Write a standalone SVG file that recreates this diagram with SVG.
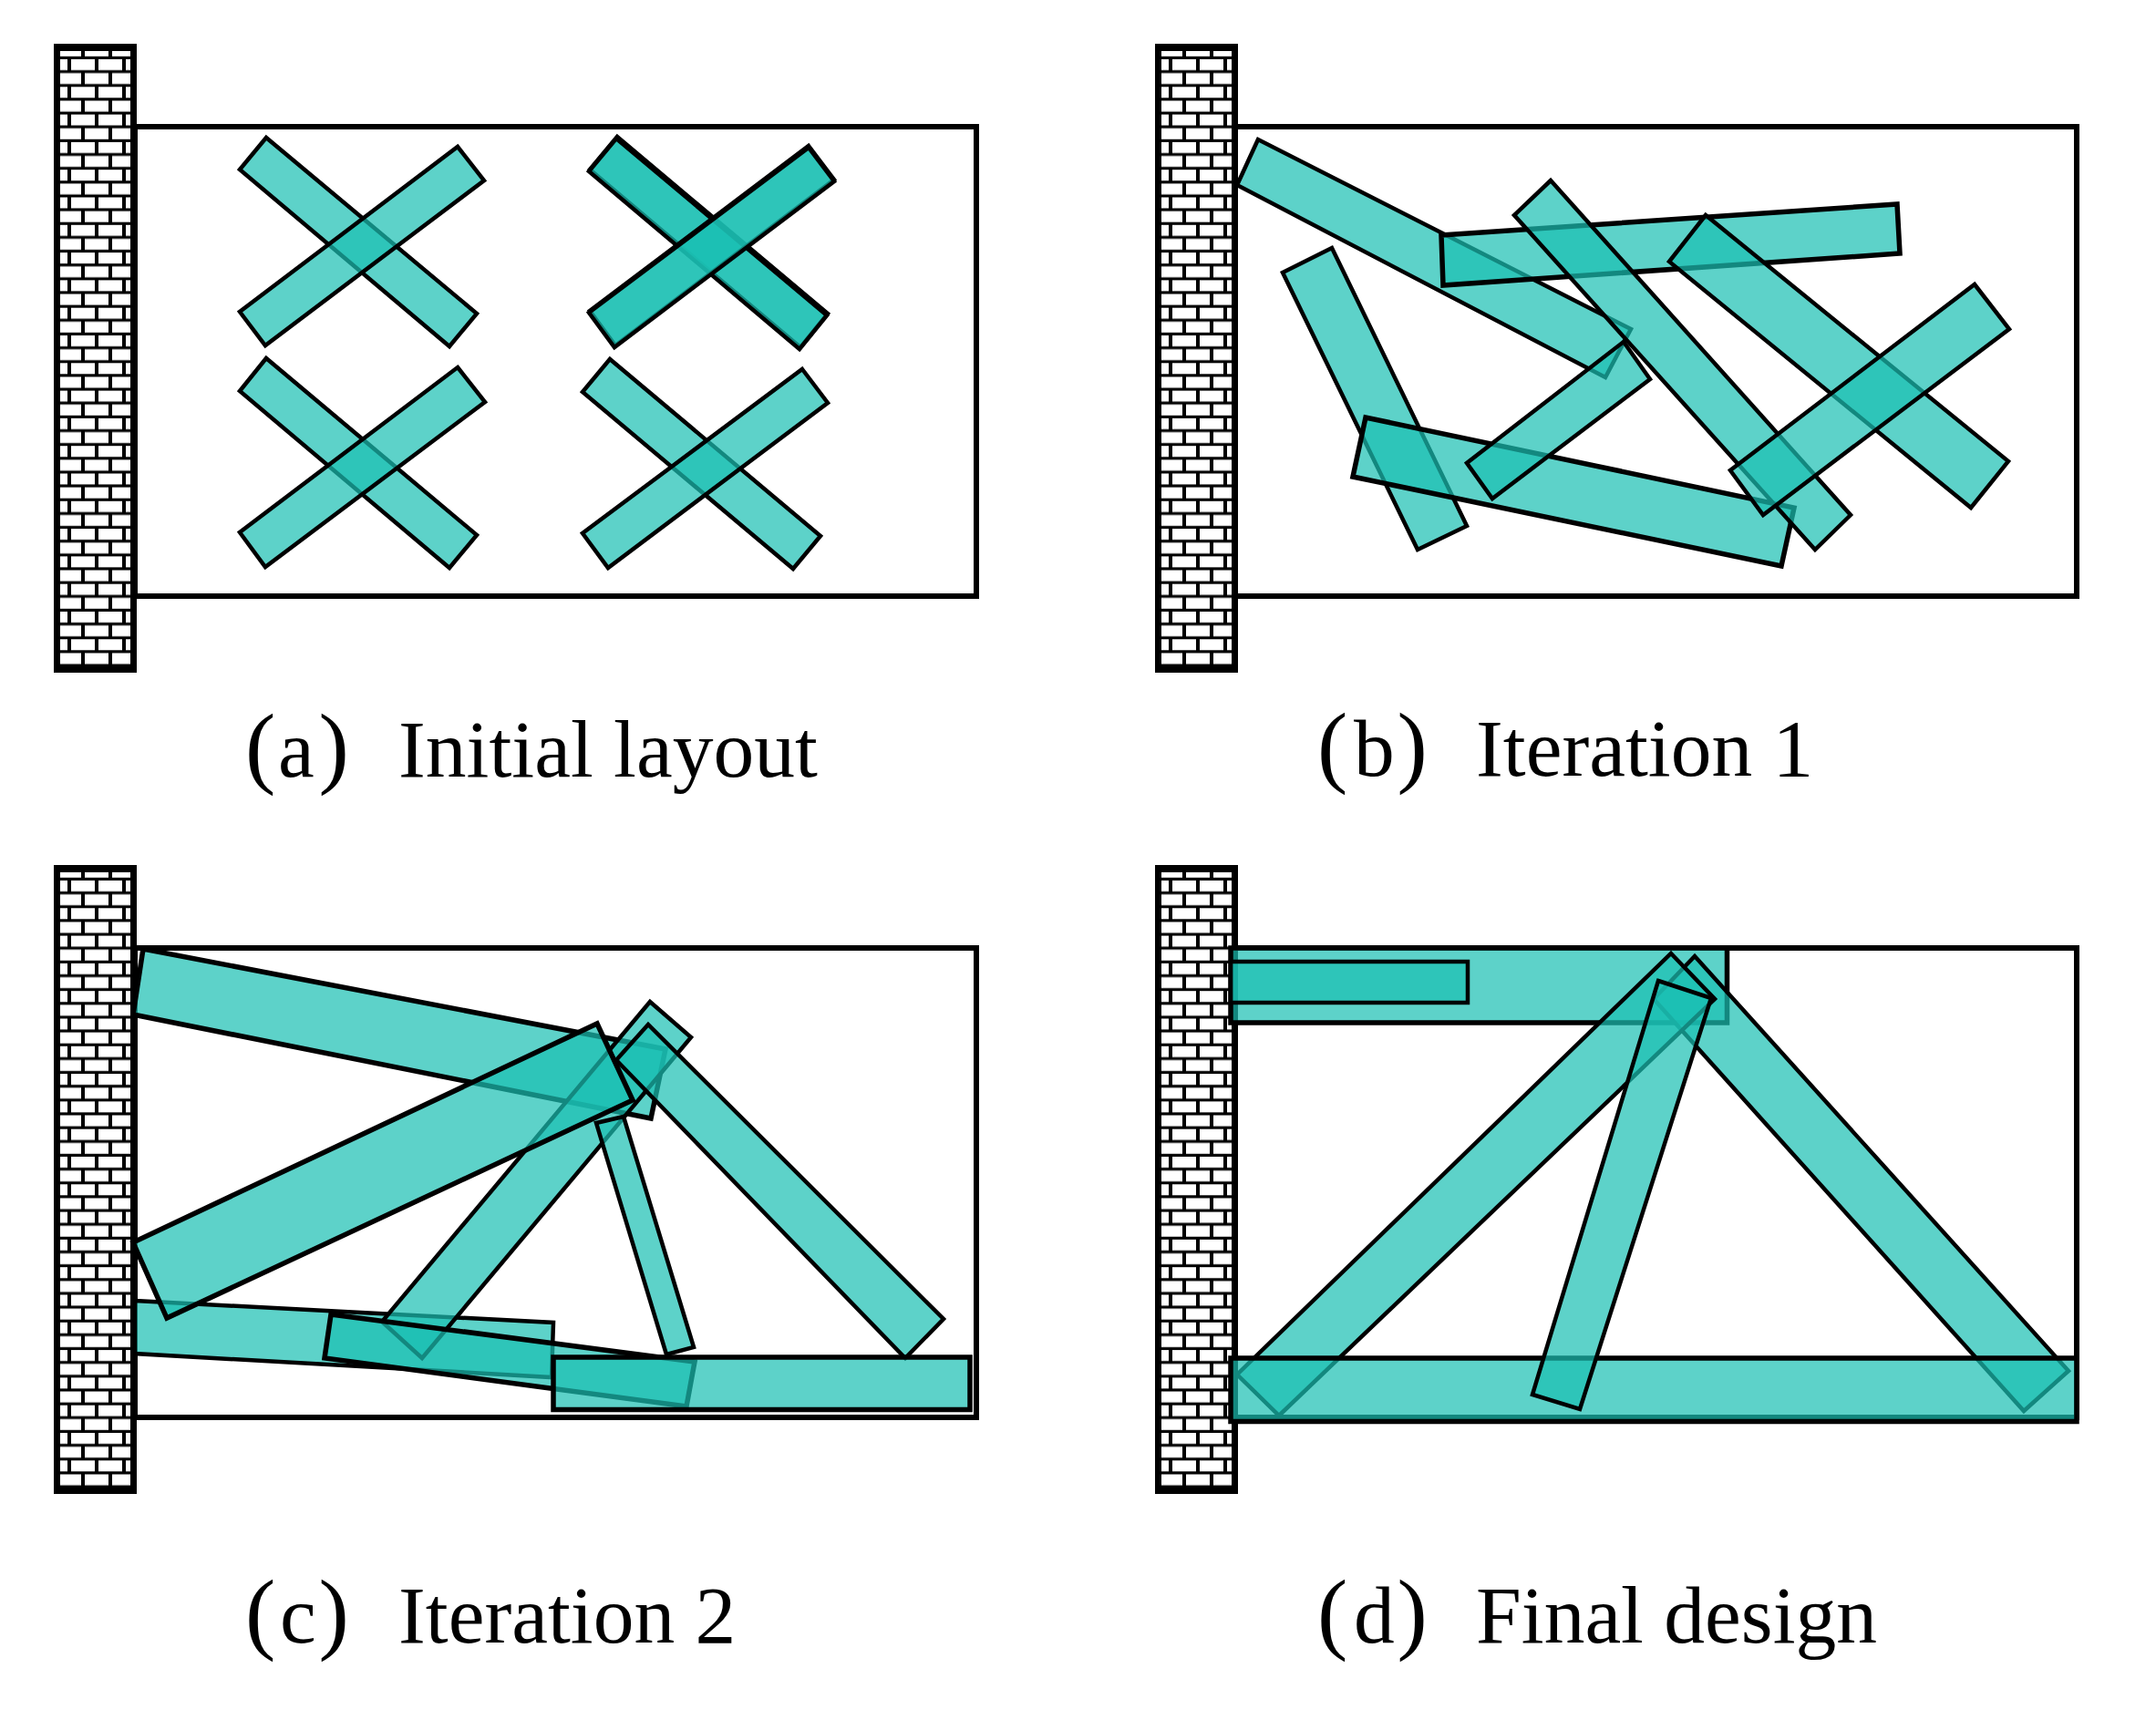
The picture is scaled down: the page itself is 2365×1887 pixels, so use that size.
<svg xmlns="http://www.w3.org/2000/svg" width="2365" height="1887" viewBox="0 0 2365 1887">
<style>
.bar{fill:rgb(27,192,179);fill-opacity:.71;stroke:#000;stroke-width:4.5;stroke-linejoin:miter}
.thick{stroke-width:5.5}
.frame{fill:none;stroke:#000;stroke-width:6}
.cap{font-family:"Liberation Serif","Times New Roman",serif;font-size:89.5px;fill:#000}
.p{font-size:100px}
</style>
<defs>
<pattern id="brick" patternUnits="userSpaceOnUse" x="63" y="65" width="30" height="30.3">
<rect x="15" y="0" width="26" height="12" fill="#fff"/>
<rect x="-15" y="0" width="26" height="12" fill="#fff"/>
<rect x="0" y="15.15" width="26" height="12" fill="#fff"/>
</pattern>
<g id="wall">
<rect x="59" y="48" width="91" height="690" fill="#000"/>
<rect x="66" y="56" width="77" height="674" fill="url(#brick)"/>
</g>
</defs>
<rect width="2365" height="1887" fill="#fff"/>

<g id="panel-a">
<use href="#wall"/>
<rect class="frame" x="148" y="139" width="923" height="515"/>
<polygon class="bar" points="292,151 263,186 493,380 523,344"/>
<polygon class="bar" points="502,161 531,198 291,379 263,342"/>
<polygon class="bar" points="677,150 647,186 878,381 908,344"/>
<polygon class="bar" points="676,152 646,188 877,383 907,346"/>
<polygon class="bar" points="887,160 915,197 675,379 647,341"/>
<polygon class="bar" points="887,162 915,199 674,381 646,343"/>
<polygon class="bar" points="292,393 263,429 493,623 523,587"/>
<polygon class="bar" points="502,403 532,441 291,622 263,584"/>
<polygon class="bar" points="669,394 639,430 870,624 900,588"/>
<polygon class="bar" points="880,405 908,442 667,623 639,585"/>
<text class="cap" y="852"><tspan class="p" x="269">(</tspan><tspan x="305">a</tspan><tspan class="p" x="349.5">)</tspan> <tspan x="437">Initial layout</tspan></text>
</g>

<g id="panel-b">
<use href="#wall" x="1208"/>
<rect class="frame" x="1355" y="139" width="923" height="515"/>
<polygon class="bar" points="1380,153 1357,203 1761,414 1789,361"/>
<polygon class="bar" points="1461,272 1407,299 1555,603 1609,577"/>
<polygon class="bar thick" points="1581,258 2081,224 2084,278 1583,313"/>
<polygon class="bar thick" points="1498,458 1484,523 1954,621 1968,557"/>
<polygon class="bar" points="1781,375 1810,416 1637,547 1609,508"/>
<polygon class="bar" points="1701,198 1661,236 1991,603 2030,565"/>
<polygon class="bar" points="1871,236 1831,287 2162,557 2203,506"/>
<polygon class="bar" points="2166,312 2204,361 1934,565 1898,516"/>
<text class="cap" y="851"><tspan class="p" x="1445">(</tspan><tspan x="1485">b</tspan><tspan class="p" x="1532.5">)</tspan> <tspan x="1619">Iteration  1</tspan></text>
</g>

<g id="panel-c">
<use href="#wall" y="901"/>
<rect class="frame" x="148" y="1040" width="923" height="515"/>
<polygon class="bar" points="148,1427 607,1451 605,1511 148,1485"/>
<polygon class="bar thick" points="157,1041 146,1113 714,1227 730,1151"/>
<polygon class="bar" points="713,1099 758,1138 463,1490 419,1450"/>
<polygon class="bar" points="711,1124 676,1163 993,1490 1035,1447"/>
<polygon class="bar" points="654,1232 684,1225 761,1478 731,1486"/>
<polygon class="bar thick" points="363,1442 762,1494 753,1543 356,1490"/>
<polygon class="bar thick" points="655,1123 694,1207 183,1446 146,1363"/>
<polygon class="bar thick" points="607,1489 1064,1489 1064,1546.5 607,1546.5"/>
<text class="cap" y="1802"><tspan class="p" x="269">(</tspan><tspan x="307">c</tspan><tspan class="p" x="349.5">)</tspan> <tspan x="437">Iteration 2</tspan></text>
</g>

<g id="panel-d">
<use href="#wall" x="1208" y="901"/>
<rect class="frame" x="1355" y="1040" width="923" height="515"/>
<polygon class="bar thick" points="1350,1040 1894.5,1040 1894.5,1122 1350,1122"/>
<polygon class="bar" points="1350,1055 1610,1055 1610,1100 1350,1100"/>
<polygon class="bar" points="1859,1049 1814,1096 2220,1548 2269,1504"/>
<polygon class="bar" points="1833,1046 1881,1096 1403,1553 1357,1508"/>
<polygon class="bar thick" points="1350,1490 2278,1490 2278,1559.5 1350,1559.5"/>
<polygon class="bar" points="1819,1076 1877,1095 1733,1546 1681,1530"/>
<text class="cap" y="1802"><tspan class="p" x="1445">(</tspan><tspan x="1485">d</tspan><tspan class="p" x="1532.5">)</tspan> <tspan x="1619">Final design</tspan></text>
</g>
</svg>
